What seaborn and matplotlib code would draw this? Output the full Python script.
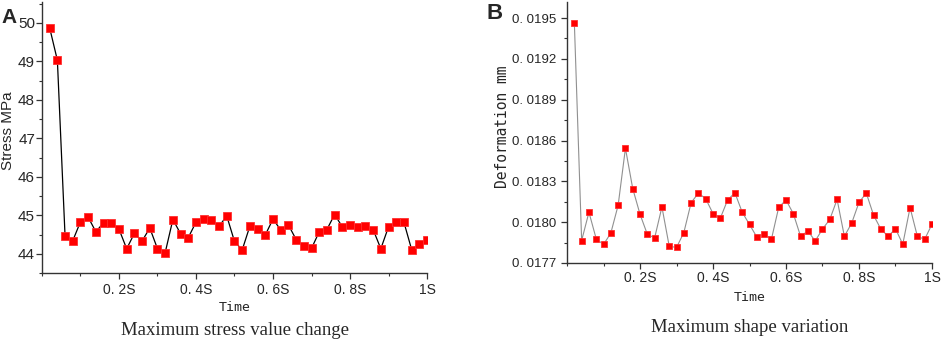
import numpy as np
import pandas as pd
import matplotlib
matplotlib.use("Agg")
import matplotlib.pyplot as plt
import seaborn as sns
from matplotlib.ticker import MultipleLocator, FixedLocator

# ==================================================
# DATA
# ==================================================

time_s = [round(0.02 * (i + 1), 2) for i in range(50)]

stress_mpa = [
    49.87, 49.03, 44.45, 44.34, 44.83, 44.95, 44.57, 44.81, 44.81, 44.64,
    44.13, 44.53, 44.33, 44.67, 44.13, 44.03, 44.89, 44.52, 44.42, 44.82,
    44.91, 44.88, 44.72, 44.98, 44.32, 44.10, 44.72, 44.64, 44.49, 44.90,
    44.62, 44.75, 44.37, 44.19, 44.14, 44.57, 44.63, 45.02, 44.70, 44.74,
    44.69, 44.72, 44.63, 44.13, 44.70, 44.82, 44.82, 44.11, 44.26, 44.37,
]

deformation_mm = [
    0.019467, 0.017865, 0.018073, 0.017877, 0.017836, 0.017920, 0.018124, 0.018543, 0.018247, 0.018058,
    0.017911, 0.017884, 0.018112, 0.017823, 0.017814, 0.017923, 0.018143, 0.018214, 0.018172, 0.018063,
    0.018029, 0.018163, 0.018216, 0.018073, 0.017983, 0.017891, 0.017913, 0.017874, 0.018109, 0.018163,
    0.018063, 0.017896, 0.017935, 0.017862, 0.017949, 0.018020, 0.018167, 0.017896, 0.017993, 0.018145,
    0.018214, 0.018051, 0.017949, 0.017896, 0.017952, 0.017838, 0.018107, 0.017896, 0.017874, 0.017985,
]

x_ticks = [0.2, 0.4, 0.6, 0.8, 1.0]
x_tick_labels = ["0. 2S", "0. 4S", "0. 6S", "0. 8S", "1S"]

stress_ticks = [44, 45, 46, 47, 48, 49, 50]
deform_ticks = [0.0177, 0.0180, 0.0183, 0.0186, 0.0189, 0.0192, 0.0195]
deform_tick_labels = ["0. 0177", "0. 0180", "0. 0183", "0. 0186", "0. 0189", "0. 0192", "0. 0195"]

df = pd.DataFrame({"time": time_s, "stress": stress_mpa, "deform": deformation_mm})

# ==================================================
# FIGURE
# ==================================================

sns.set_style("ticks")
plt.rcParams["font.family"] = ["Liberation Sans", "DejaVu Sans"]

fig = plt.figure(figsize=(9.41, 3.45), dpi=100)
ax_a = fig.add_axes([0.0446, 0.2087, 0.4092, 0.7863])
ax_b = fig.add_axes([0.6026, 0.2377, 0.3878, 0.7573])

mono = "DejaVu Sans Mono"

# ---------------- Panel A ----------------
sns.lineplot(
    data=df, x="time", y="stress", ax=ax_a,
    color="black", lw=0.9,
    marker="s", markersize=6,
    markerfacecolor="red", markeredgecolor="#ff3030", markeredgewidth=0.6
)
ax_a.set_xlim(0, 1.0)
ax_a.set_ylim(43.5, 50.55)
ax_a.xaxis.set_major_locator(FixedLocator(x_ticks))
ax_a.set_xticklabels(x_tick_labels, fontsize=10)
ax_a.xaxis.set_minor_locator(MultipleLocator(0.1))
ax_a.yaxis.set_major_locator(FixedLocator(stress_ticks))
ax_a.yaxis.set_minor_locator(MultipleLocator(0.5))
ax_a.tick_params(axis="y", labelsize=11, pad=1)
ax_a.tick_params(axis="x", pad=3)
ax_a.set_xlabel("Time", family=mono, fontsize=9.5, labelpad=3)
ax_a.set_ylabel("Stress MPa", fontsize=11)
ax_a.yaxis.set_label_coords(-0.07, 0.525)

# ---------------- Panel B ----------------
sns.lineplot(
    data=df, x="time", y="deform", ax=ax_b,
    color="#909090", lw=0.8,
    marker="s", markersize=5,
    markerfacecolor="red", markeredgecolor="#ff3030", markeredgewidth=0.6
)
ax_b.set_xlim(0, 1.0)
ax_b.set_ylim(0.0177, 0.01962)
ax_b.xaxis.set_major_locator(FixedLocator(x_ticks))
ax_b.set_xticklabels(x_tick_labels, fontsize=10)
ax_b.xaxis.set_minor_locator(MultipleLocator(0.1))
ax_b.yaxis.set_major_locator(FixedLocator(deform_ticks))
ax_b.set_yticklabels(deform_tick_labels, fontsize=9.5)
ax_b.yaxis.set_minor_locator(MultipleLocator(0.00015))
ax_b.tick_params(axis="x", pad=2)
ax_b.set_xlabel("Time", family=mono, fontsize=9.5, labelpad=4)
ax_b.set_ylabel("Deformation mm", family=mono, fontsize=10.5)
ax_b.yaxis.set_label_coords(-0.155, 0.52)

for ax in (ax_a, ax_b):
    sns.despine(ax=ax)
    for side in ("left", "bottom"):
        ax.spines[side].set_linewidth(1.0)
        ax.spines[side].set_color("#333333")
    ax.tick_params(which="major", length=4, width=0.9, color="#333333")
    ax.tick_params(which="minor", length=2.5, width=0.8, color="#333333")

# panel letters and captions
fig.text(0.002, 0.95, "A", fontsize=15, fontweight="bold", va="center")
fig.text(0.517, 0.96, "B", fontsize=16, fontweight="bold", va="center")
fig.text(0.25, 0.043, "Maximum stress value change", family="Liberation Serif",
         fontsize=13.5, ha="center", va="center")
fig.text(0.797, 0.05, "Maximum shape variation", family="Liberation Serif",
         fontsize=13.5, ha="center", va="center")

plt.savefig("out.png", dpi=100)
